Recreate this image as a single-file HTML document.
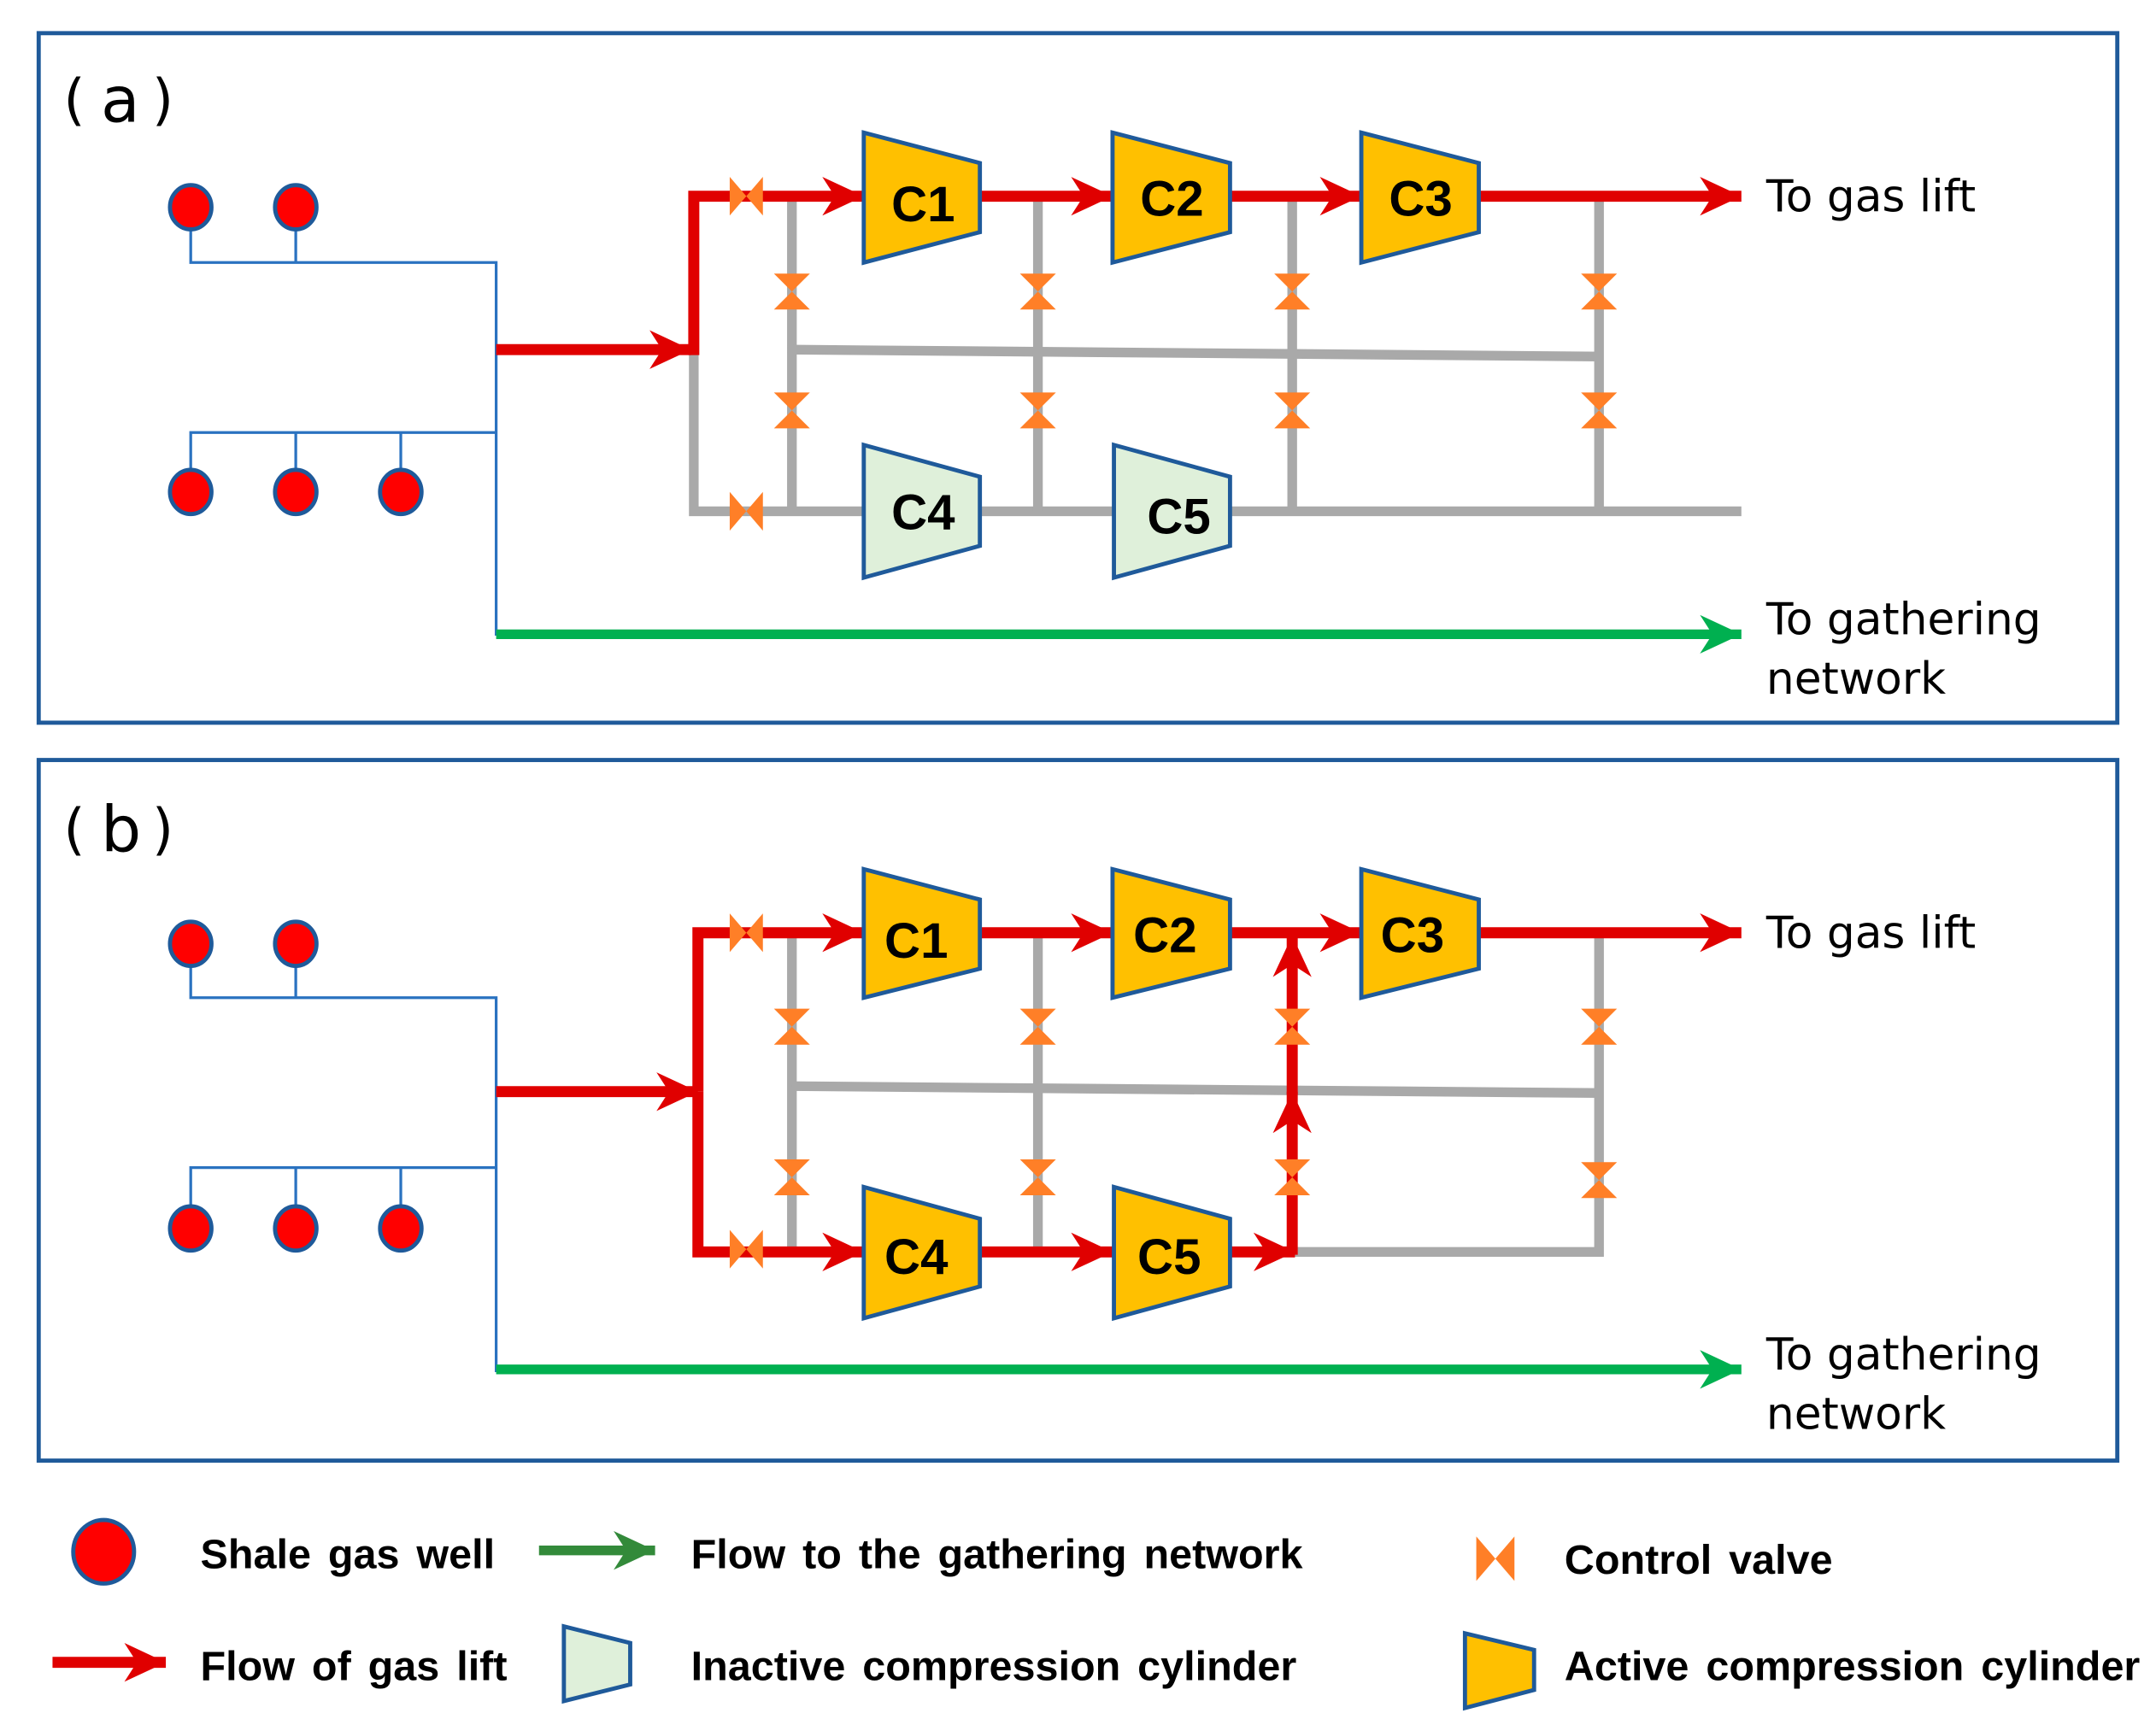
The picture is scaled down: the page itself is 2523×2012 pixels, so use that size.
<!DOCTYPE html>
<html><head><meta charset="utf-8"><style>html,body{margin:0;padding:0;background:#fff}svg{display:block}</style></head><body>
<svg width="2523" height="2012" viewBox="0 0 1560 1244" preserveAspectRatio="none" xmlns="http://www.w3.org/2000/svg" font-family="Liberation Sans, DejaVu Sans, sans-serif">
<defs>
<marker id="ar" markerUnits="userSpaceOnUse" markerWidth="32" markerHeight="30" refX="30" refY="15" orient="auto"><path d="M0,1 L30,15 L0,29 L9,15Z" fill="#e00000"/></marker>
<marker id="ag" markerUnits="userSpaceOnUse" markerWidth="32" markerHeight="30" refX="30" refY="15" orient="auto"><path d="M0,1 L30,15 L0,29 L9,15Z" fill="#00b050"/></marker>
<marker id="ag2" markerUnits="userSpaceOnUse" markerWidth="32" markerHeight="30" refX="30" refY="15" orient="auto"><path d="M0,1 L30,15 L0,29 L9,15Z" fill="#338a3a"/></marker>
<g id="hv"><polygon points="-12,-14 0,0 -12,14" fill="#ff7f27"/><polygon points="12,-14 0,0 12,14" fill="#ff7f27"/></g>
<g id="vv"><polygon points="-13,-13 13,-13 0,0" fill="#ff7f27"/><polygon points="-13,13 13,13 0,0" fill="#ff7f27"/></g>
<g id="well"><ellipse cx="0" cy="0" rx="15" ry="16" fill="#ff0000" stroke="#1f5a9a" stroke-width="3"/></g>
</defs>
<rect width="1560" height="1244" fill="#fff"/>

<!-- Panel a -->
<rect x="28" y="24" width="1504" height="499" fill="none" stroke="#1f5a9a" stroke-width="3"/>
<g font-size="46" font-family="DejaVu Sans, sans-serif" font-weight="normal">
<text x="46" y="86" font-size="40">(</text><text x="73" y="88">a</text><text x="110" y="86" font-size="40">)</text>
</g>
<g stroke="#2a72c0" stroke-width="2" fill="none">
<path d="M138,150V190H359V460M214,150V190M138,356V313H359M214,356V313M290,356V313"/>
</g>
<g stroke="#a9a9a9" stroke-width="7" fill="none">
<path d="M502,253V370H625M709,370H806M890,370H1260"/>
<path d="M573,142V370M751,142V370M935,142V370M1157,142V370"/>
<path d="M570,253L1157,258"/>
</g>
<line x1="359" y1="459" x2="1260" y2="459" stroke="#00b050" stroke-width="7" marker-end="url(#ag)"/>
<g stroke="#e00000" stroke-width="8" fill="none">
<line x1="359" y1="253" x2="500" y2="253" marker-end="url(#ar)"/>
<path d="M502,257V142H625" marker-end="url(#ar)"/>
<line x1="709" y1="142" x2="805" y2="142" marker-end="url(#ar)"/>
<line x1="890" y1="142" x2="985" y2="142" marker-end="url(#ar)"/>
<line x1="1070" y1="142" x2="1260" y2="142" marker-end="url(#ar)"/>
</g>
<use href="#hv" x="540" y="142"/><use href="#hv" x="540" y="370"/>
<use href="#vv" x="573" y="211"/><use href="#vv" x="751" y="211"/><use href="#vv" x="935" y="211"/><use href="#vv" x="1157" y="211"/>
<use href="#vv" x="573" y="297"/><use href="#vv" x="751" y="297"/><use href="#vv" x="935" y="297"/><use href="#vv" x="1157" y="297"/>
<g stroke="#1f5a9a" stroke-width="3">
<polygon points="625,96 709,118 709,168 625,190" fill="#ffc000"/>
<polygon points="805,96 890,118 890,168 805,190" fill="#ffc000"/>
<polygon points="985,96 1070,118 1070,168 985,190" fill="#ffc000"/>
<polygon points="625,322 709,345 709,395 625,418" fill="#dff0da"/>
<polygon points="806,322 890,345 890,395 806,418" fill="#dff0da"/>
</g>
<g font-size="36" font-weight="bold" text-anchor="middle">
<text x="668" y="160">C1</text><text x="848" y="156">C2</text><text x="1028" y="156">C3</text>
<text x="668" y="383">C4</text><text x="853" y="386">C5</text>
</g>
<use href="#well" x="138" y="150"/><use href="#well" x="214" y="150"/>
<use href="#well" x="138" y="356"/><use href="#well" x="214" y="356"/><use href="#well" x="290" y="356"/>
<g font-size="32" font-family="DejaVu Sans, Liberation Sans, sans-serif">
<text x="1278" y="153">To gas lift</text>
<text x="1278" y="459">To gathering</text>
<text x="1278" y="502">network</text>
</g>

<!-- Panel b -->
<rect x="28" y="550" width="1504" height="507" fill="none" stroke="#1f5a9a" stroke-width="3"/>
<g font-size="46" font-family="DejaVu Sans, sans-serif">
<text x="46" y="614" font-size="40">(</text><text x="73" y="616">b</text><text x="110" y="614" font-size="40">)</text>
</g>
<g stroke="#2a72c0" stroke-width="2" fill="none">
<path d="M138,683V722H359V993M214,683V722M138,889V845H359M214,889V845M290,889V845"/>
</g>
<g stroke="#a9a9a9" stroke-width="7" fill="none">
<path d="M573,675V906M751,675V906M1157,675V906H935"/>
<path d="M573,786L1157,791"/>
</g>
<line x1="359" y1="991" x2="1260" y2="991" stroke="#00b050" stroke-width="7" marker-end="url(#ag)"/>
<g stroke="#e00000" stroke-width="8" fill="none">
<line x1="359" y1="790" x2="505" y2="790" marker-end="url(#ar)"/>
<path d="M505,790V675H625" marker-end="url(#ar)"/>
<path d="M505,790V906H625" marker-end="url(#ar)"/>
<line x1="709" y1="675" x2="805" y2="675" marker-end="url(#ar)"/>
<line x1="890" y1="675" x2="985" y2="675" marker-end="url(#ar)"/>
<line x1="1070" y1="675" x2="1260" y2="675" marker-end="url(#ar)"/>
<line x1="709" y1="906" x2="805" y2="906" marker-end="url(#ar)"/>
<line x1="890" y1="906" x2="937" y2="906" marker-end="url(#ar)"/>
<line x1="935" y1="908" x2="935" y2="790" marker-end="url(#ar)"/>
<line x1="935" y1="792" x2="935" y2="677" marker-end="url(#ar)"/>
</g>
<use href="#hv" x="540" y="675"/><use href="#hv" x="540" y="904"/>
<use href="#vv" x="573" y="743"/><use href="#vv" x="751" y="743"/><use href="#vv" x="935" y="743"/><use href="#vv" x="1157" y="743"/>
<use href="#vv" x="573" y="852"/><use href="#vv" x="751" y="852"/><use href="#vv" x="935" y="852"/><use href="#vv" x="1157" y="854"/>
<g stroke="#1f5a9a" stroke-width="3" fill="#ffc000">
<polygon points="625,629 709,651 709,701 625,722"/>
<polygon points="805,629 890,651 890,701 805,722"/>
<polygon points="985,629 1070,651 1070,701 985,722"/>
<polygon points="625,859 709,882 709,931 625,954"/>
<polygon points="806,859 890,882 890,931 806,954"/>
</g>
<g font-size="36" font-weight="bold" text-anchor="middle">
<text x="663" y="693">C1</text><text x="843" y="689">C2</text><text x="1022" y="689">C3</text>
<text x="663" y="922">C4</text><text x="846" y="922">C5</text>
</g>
<use href="#well" x="138" y="683"/><use href="#well" x="214" y="683"/>
<use href="#well" x="138" y="889"/><use href="#well" x="214" y="889"/><use href="#well" x="290" y="889"/>
<g font-size="32" font-family="DejaVu Sans, Liberation Sans, sans-serif">
<text x="1278" y="686">To gas lift</text>
<text x="1278" y="991">To gathering</text>
<text x="1278" y="1034">network</text>
</g>

<!-- Legend -->
<ellipse cx="75" cy="1123" rx="22" ry="23" fill="#ff0000" stroke="#1f5a9a" stroke-width="3"/>
<line x1="390" y1="1122" x2="474" y2="1122" stroke="#338a3a" stroke-width="7" marker-end="url(#ag2)"/>
<g transform="translate(1082,1128) scale(1.15)"><use href="#hv"/></g>
<line x1="38" y1="1203" x2="120" y2="1203" stroke="#e00000" stroke-width="8" marker-end="url(#ar)"/>
<polygon points="408,1177 456,1189 456,1219 408,1231" fill="#dff0da" stroke="#1f5a9a" stroke-width="3"/>
<polygon points="1060,1182 1110,1194 1110,1223 1060,1236" fill="#ffc000" stroke="#1f5a9a" stroke-width="3"/>
<g font-size="30" font-weight="bold" font-family="Liberation Sans, sans-serif" word-spacing="4">
<text x="145" y="1135">Shale gas well</text>
<text x="500" y="1135">Flow to the gathering network</text>
<text x="1132" y="1139">Control valve</text>
<text x="145" y="1216">Flow of gas lift</text>
<text x="500" y="1216">Inactive compression cylinder</text>
<text x="1132" y="1216">Active compression cylinder</text>
</g>
</svg>
</body></html>
